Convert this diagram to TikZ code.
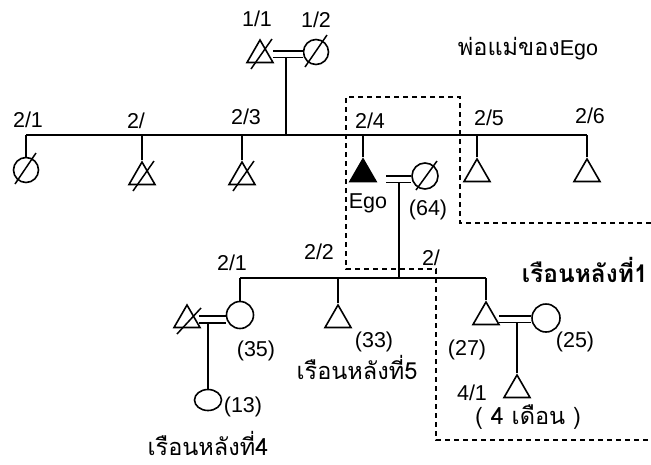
\documentclass[tikz,border=0pt]{standalone}
\usepackage{fontspec}
\setmainfont{Liberation Sans}
\newfontfamily\thaifont[Script=Thai]{Loma}
\usetikzlibrary{shapes.geometric,calc}
\begin{document}
\begin{tikzpicture}[x=1pt,y=-1pt,line width=1.6pt,
  male/.style={draw,regular polygon,regular polygon sides=3,minimum size=30pt,inner sep=0pt},
  female/.style={draw,circle,minimum size=25pt,inner sep=0pt},
  marr/.style={double,double distance=5pt},
  slash/.style={line width=1.5pt},
  dashbox/.style={dash pattern=on 5pt off 4pt,line width=1.4pt},
  lbl/.style={font=\fontsize{21.5}{24}\selectfont,inner sep=0pt},
  thl/.style={font=\fontsize{23.5}{26}\selectfont\thaifont,inner sep=0pt},
]
\useasboundingbox (0,0) rectangle (651,464);
\fill[white] (0,0) rectangle (651,464);

% generation 1
\node[male] (n11) at (260,55) {};
\node[female] (n12) at (316,52) {};
\coordinate (m1L) at (273,54);
\coordinate (m1R) at (n12.west |- m1L);
\draw[marr] (m1L) -- (m1R);
\coordinate (d1) at (286,57);
\coordinate (p1) at (286,135);
\draw (d1) -- (p1);

% generation 2
\coordinate (s21) at (26,135);
\coordinate (s22) at (142,135);
\coordinate (s23) at (242,135);
\coordinate (s24) at (363,135);
\coordinate (s25) at (477,135);
\coordinate (s26) at (587,135);
\draw (s21) -- (s26);
\node[female] (c21) at (26,170) {};
\node[male] (c22) at (142,177) {};
\node[male] (c23) at (242,177) {};
\node[male,fill=black] (ego) at (363,174) {};
\node[male] (c25) at (477,174) {};
\node[male] (c26) at (587,174) {};
\draw (s21) -- (c21.north);
\draw (s22) -- (c22.north);
\draw (s23) -- (c23.north);
\draw (s24) -- (ego.north);
\draw (s25) -- (c25.north);
\draw (s26) -- (c26.north);
\node[female,minimum size=26pt] (egow) at (425,176) {};
\coordinate (m2L) at (386,179);
\coordinate (m2R) at (egow.west |- m2L);
\draw[marr] (m2L) -- (m2R);
\coordinate (d2) at (399,182);
\coordinate (p2) at (399,278);
\draw (d2) -- (p2);

% generation 3
\coordinate (t1) at (240,278);
\coordinate (t2) at (338,278);
\coordinate (t3) at (486,278);
\draw (t1) -- (t3);
\node[female,minimum size=27pt] (g1) at (240,315) {};
\node[male] (g1h) at (187,320) {};
\node[male] (g2) at (338,320) {};
\node[male] (g3) at (486,317) {};
\node[female,minimum size=28pt] (g3w) at (546,318) {};
\draw (t1) -- (g1.north);
\draw (t2) -- (g2.north);
\draw (t3) -- (g3.north);
\coordinate (m3L) at (199,319.5);
\coordinate (m3R) at (g1.west |- m3L);
\draw[marr] (m3L) -- (m3R);
\coordinate (m4L) at (499,319);
\coordinate (m4R) at (g3w.west |- m4L);
\draw[marr] (m4L) -- (m4R);

% generation 4
\node[draw,ellipse,minimum width=27pt,minimum height=21pt,inner sep=0pt] (g1c) at (208,400) {};
\node[male] (g4) at (517,390) {};
\coordinate (d3) at (208,322);
\coordinate (d4) at (517,322);
\draw (d3) -- (g1c.north);
\draw (d4) -- (g4.north);

% slashes (deceased)
\draw[slash] ($(n11.center)+(-9,14)$) -- ($(n11.center)+(12,-16)$);
\draw[slash] ($(n12.center)+(-11,15)$) -- ($(n12.center)+(11,-17)$);
\draw[slash] ($(c21.center)+(-11,14)$) -- ($(c21.center)+(10,-17)$);
\draw[slash] ($(c22.center)+(-9,14)$) -- ($(c22.center)+(12,-16)$);
\draw[slash] ($(c23.center)+(-9,14)$) -- ($(c23.center)+(12,-16)$);
\draw[slash] ($(egow.center)+(-9,14)$) -- ($(egow.center)+(12,-15)$);
\draw[slash] ($(g1h.center)+(-10,14)$) -- ($(g1h.center)+(14,-12)$);

% dashed household boxes
\draw[dashbox] (651,223) -- (460,223) -- (460,97) -- (346,97) -- (346,269) -- (436,269) -- (436,440) -- (651,440);

% labels
\node[lbl] (l11) at (257,19) {1/1};
\node[lbl] (l12) at (316,20) {1/2};
\node[thl] (lpar) at (528,49) {พ่อแม่ของ{\fontsize{21.5}{24}\rmfamily Ego}};
\node[lbl] (l21) at (28,120) {2/1};
\node[lbl] (l22) at (136,121) {2/};
\node[lbl] (l23) at (246,117) {2/3};
\node[lbl] (l24) at (370,121) {2/4};
\node[lbl] (l25) at (489,118) {2/5};
\node[lbl] (l26) at (590,116) {2/6};
\node[lbl] (lego) at (368,203) {Ego};
\node[lbl] (l64) at (428,210) {(64)};
\node[lbl] (lg1) at (232,263) {2/1};
\node[lbl] (lg2) at (319,252) {2/2};
\node[lbl] (lg3) at (431,258) {2/};
\node[lbl] (l35) at (256,351) {(35)};
\node[lbl] (l33) at (374,342) {(33)};
\node[thl] (lh5) at (357,367) {เรือนหลังที่5};
\node[lbl] (l13) at (243,407) {(13)};
\node[thl] (lh4) at (208,443) {เรือนหลังที่4};
\node[lbl] (l27) at (467,350) {(27)};
\node[lbl] (l25b) at (575,342) {(25)};
\node[lbl] (l41) at (472,393) {4/1};
\node[thl] (l4m) at (528,417) {( 4 เดือน )};
\node[thl,font=\fontsize{24.5}{27}\selectfont\thaifont\bfseries,anchor=west] (lh1) at (521,270) {เรือนหลังที่1};
\end{tikzpicture}
\end{document}
